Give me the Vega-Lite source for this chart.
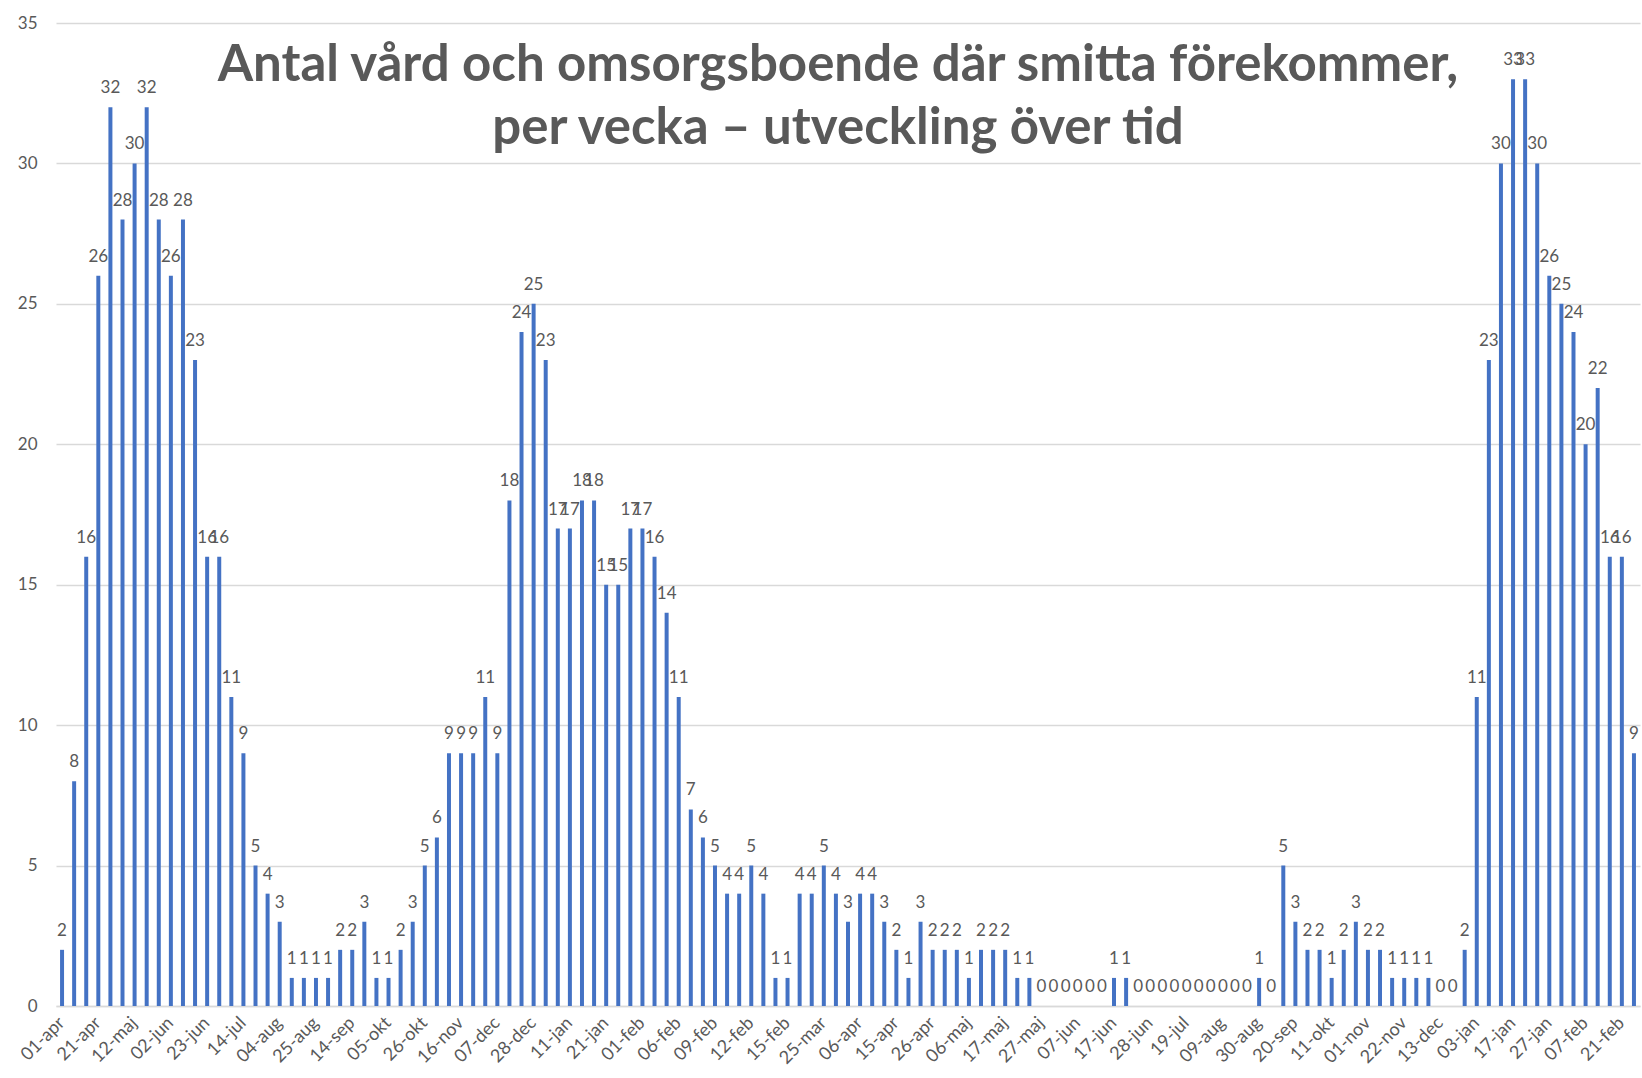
{
  "$schema": "https://vega.github.io/schema/vega-lite/v6.json",
  "width": 1584,
  "height": 983,
  "autosize": "none",
  "padding": {"left": 56, "top": 23, "right": 2, "bottom": 72},
  "background": "white",
  "config": {"view": {"stroke": null}, "font": "Lato"},
  "title": {
    "text": ["Antal vård och omsorgsboende där smitta förekommer,", "per vecka – utveckling över tid"],
    "anchor": "middle",
    "frame": "group",
    "font": "Lato",
    "fontSize": 51,
    "fontWeight": "bold",
    "color": "#595959",
    "lineHeight": 63,
    "baseline": "middle",
    "offset": -166,
    "dx": -10
  },
  "data": {
    "values": [
      {"vecka": "01-apr-20", "antal": 2},
      {"vecka": "08-apr-20", "antal": 8},
      {"vecka": "14-apr-20", "antal": 16},
      {"vecka": "21-apr-20", "antal": 26},
      {"vecka": "28-apr-20", "antal": 32},
      {"vecka": "05-maj-20", "antal": 28},
      {"vecka": "12-maj-20", "antal": 30},
      {"vecka": "19-maj-20", "antal": 32},
      {"vecka": "26-maj-20", "antal": 28},
      {"vecka": "02-jun-20", "antal": 26},
      {"vecka": "09-jun-20", "antal": 28},
      {"vecka": "16-jun-20", "antal": 23},
      {"vecka": "23-jun-20", "antal": 16},
      {"vecka": "30-jun-20", "antal": 16},
      {"vecka": "07-jul-20", "antal": 11},
      {"vecka": "14-jul-20", "antal": 9},
      {"vecka": "21-jul-20", "antal": 5},
      {"vecka": "28-jul-20", "antal": 4},
      {"vecka": "04-aug-20", "antal": 3},
      {"vecka": "11-aug-20", "antal": 1},
      {"vecka": "18-aug-20", "antal": 1},
      {"vecka": "25-aug-20", "antal": 1},
      {"vecka": "01-sep-20", "antal": 1},
      {"vecka": "08-sep-20", "antal": 2},
      {"vecka": "14-sep-20", "antal": 2},
      {"vecka": "21-sep-20", "antal": 3},
      {"vecka": "28-sep-20", "antal": 1},
      {"vecka": "05-okt-20", "antal": 1},
      {"vecka": "12-okt-20", "antal": 2},
      {"vecka": "19-okt-20", "antal": 3},
      {"vecka": "26-okt-20", "antal": 5},
      {"vecka": "02-nov-20", "antal": 6},
      {"vecka": "09-nov-20", "antal": 9},
      {"vecka": "16-nov-20", "antal": 9},
      {"vecka": "23-nov-20", "antal": 9},
      {"vecka": "30-nov-20", "antal": 11},
      {"vecka": "07-dec-20", "antal": 9},
      {"vecka": "14-dec-20", "antal": 18},
      {"vecka": "21-dec-20", "antal": 24},
      {"vecka": "28-dec-20", "antal": 25},
      {"vecka": "04-jan-21", "antal": 23},
      {"vecka": "08-jan-21", "antal": 17},
      {"vecka": "11-jan-21", "antal": 17},
      {"vecka": "14-jan-21", "antal": 18},
      {"vecka": "18-jan-21", "antal": 18},
      {"vecka": "21-jan-21", "antal": 15},
      {"vecka": "25-jan-21", "antal": 15},
      {"vecka": "28-jan-21", "antal": 17},
      {"vecka": "01-feb-21", "antal": 17},
      {"vecka": "03-feb-21", "antal": 16},
      {"vecka": "05-feb-21", "antal": 14},
      {"vecka": "06-feb-21", "antal": 11},
      {"vecka": "07-feb-21", "antal": 7},
      {"vecka": "08-feb-21", "antal": 6},
      {"vecka": "09-feb-21", "antal": 5},
      {"vecka": "10-feb-21", "antal": 4},
      {"vecka": "11-feb-21", "antal": 4},
      {"vecka": "12-feb-21", "antal": 5},
      {"vecka": "13-feb-21", "antal": 4},
      {"vecka": "14-feb-21", "antal": 1},
      {"vecka": "15-feb-21", "antal": 1},
      {"vecka": "01-mar-21", "antal": 4},
      {"vecka": "15-mar-21", "antal": 4},
      {"vecka": "25-mar-21", "antal": 5},
      {"vecka": "29-mar-21", "antal": 4},
      {"vecka": "01-apr-21", "antal": 3},
      {"vecka": "06-apr-21", "antal": 4},
      {"vecka": "09-apr-21", "antal": 4},
      {"vecka": "12-apr-21", "antal": 3},
      {"vecka": "15-apr-21", "antal": 2},
      {"vecka": "19-apr-21", "antal": 1},
      {"vecka": "22-apr-21", "antal": 3},
      {"vecka": "26-apr-21", "antal": 2},
      {"vecka": "29-apr-21", "antal": 2},
      {"vecka": "03-maj-21", "antal": 2},
      {"vecka": "06-maj-21", "antal": 1},
      {"vecka": "10-maj-21", "antal": 2},
      {"vecka": "13-maj-21", "antal": 2},
      {"vecka": "17-maj-21", "antal": 2},
      {"vecka": "20-maj-21", "antal": 1},
      {"vecka": "24-maj-21", "antal": 1},
      {"vecka": "27-maj-21", "antal": 0},
      {"vecka": "31-maj-21", "antal": 0},
      {"vecka": "03-jun-21", "antal": 0},
      {"vecka": "07-jun-21", "antal": 0},
      {"vecka": "10-jun-21", "antal": 0},
      {"vecka": "14-jun-21", "antal": 0},
      {"vecka": "17-jun-21", "antal": 1},
      {"vecka": "21-jun-21", "antal": 1},
      {"vecka": "24-jun-21", "antal": 0},
      {"vecka": "28-jun-21", "antal": 0},
      {"vecka": "05-jul-21", "antal": 0},
      {"vecka": "12-jul-21", "antal": 0},
      {"vecka": "19-jul-21", "antal": 0},
      {"vecka": "26-jul-21", "antal": 0},
      {"vecka": "02-aug-21", "antal": 0},
      {"vecka": "09-aug-21", "antal": 0},
      {"vecka": "16-aug-21", "antal": 0},
      {"vecka": "23-aug-21", "antal": 0},
      {"vecka": "30-aug-21", "antal": 1},
      {"vecka": "06-sep-21", "antal": 0},
      {"vecka": "13-sep-21", "antal": 5},
      {"vecka": "20-sep-21", "antal": 3},
      {"vecka": "27-sep-21", "antal": 2},
      {"vecka": "04-okt-21", "antal": 2},
      {"vecka": "11-okt-21", "antal": 1},
      {"vecka": "18-okt-21", "antal": 2},
      {"vecka": "25-okt-21", "antal": 3},
      {"vecka": "01-nov-21", "antal": 2},
      {"vecka": "08-nov-21", "antal": 2},
      {"vecka": "15-nov-21", "antal": 1},
      {"vecka": "22-nov-21", "antal": 1},
      {"vecka": "29-nov-21", "antal": 1},
      {"vecka": "06-dec-21", "antal": 1},
      {"vecka": "13-dec-21", "antal": 0},
      {"vecka": "20-dec-21", "antal": 0},
      {"vecka": "27-dec-21", "antal": 2},
      {"vecka": "03-jan-22", "antal": 11},
      {"vecka": "07-jan-22", "antal": 23},
      {"vecka": "10-jan-22", "antal": 30},
      {"vecka": "17-jan-22", "antal": 33},
      {"vecka": "20-jan-22", "antal": 33},
      {"vecka": "24-jan-22", "antal": 30},
      {"vecka": "27-jan-22", "antal": 26},
      {"vecka": "31-jan-22", "antal": 25},
      {"vecka": "03-feb-22", "antal": 24},
      {"vecka": "07-feb-22", "antal": 20},
      {"vecka": "10-feb-22", "antal": 22},
      {"vecka": "14-feb-22", "antal": 16},
      {"vecka": "21-feb-22", "antal": 16},
      {"vecka": "24-feb-22", "antal": 9}
    ]
  },
  "encoding": {
    "x": {
      "field": "vecka",
      "type": "ordinal",
      "sort": null,
      "title": null,
      "scale": {"paddingInner": 0.67, "paddingOuter": 0.335},
      "axis": {
        "values": ["01-apr-20", "21-apr-20", "12-maj-20", "02-jun-20", "23-jun-20", "14-jul-20", "04-aug-20", "25-aug-20", "14-sep-20", "05-okt-20", "26-okt-20", "16-nov-20", "07-dec-20", "28-dec-20", "11-jan-21", "21-jan-21", "01-feb-21", "06-feb-21", "09-feb-21", "12-feb-21", "15-feb-21", "25-mar-21", "06-apr-21", "15-apr-21", "26-apr-21", "06-maj-21", "17-maj-21", "27-maj-21", "07-jun-21", "17-jun-21", "28-jun-21", "19-jul-21", "09-aug-21", "30-aug-21", "20-sep-21", "11-okt-21", "01-nov-21", "22-nov-21", "13-dec-21", "03-jan-22", "17-jan-22", "27-jan-22", "07-feb-22", "21-feb-22"],
        "labelExpr": "substring(datum.label, 0, 6)",
        "labelAngle": -45,
        "labelAlign": "right",
        "labelBaseline": "middle",
        "labelFontSize": 18,
        "labelColor": "#595959",
        "labelPadding": 14,
        "labelOverlap": false,
        "ticks": false,
        "domain": true,
        "domainColor": "#d9d9d9",
        "domainWidth": 1.5,
        "grid": false
      }
    }
  },
  "layer": [
    {
      "mark": {"type": "bar", "color": "#4472C4"},
      "encoding": {
        "y": {
          "field": "antal",
          "type": "quantitative",
          "title": null,
          "scale": {"domain": [0, 35], "nice": false},
          "axis": {
            "values": [0, 5, 10, 15, 20, 25, 30, 35],
            "grid": true,
            "gridColor": "#d9d9d9",
            "gridWidth": 1.5,
            "domain": false,
            "ticks": false,
            "labelFontSize": 17,
            "labelColor": "#595959",
            "labelPadding": 19
          }
        }
      }
    },
    {
      "mark": {"type": "text", "baseline": "middle", "align": "center", "dy": -19, "fontSize": 17, "color": "#595959"},
      "encoding": {
        "y": {"field": "antal", "type": "quantitative"},
        "text": {"field": "antal", "type": "quantitative"}
      }
    }
  ]
}
